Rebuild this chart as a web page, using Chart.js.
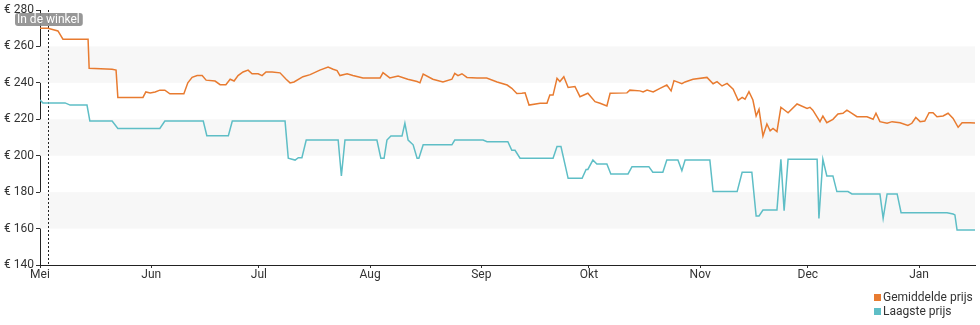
<!DOCTYPE html>
<html>
<head>
<meta charset="utf-8">
<script src="https://cdn.jsdelivr.net/npm/chart.js@4/dist/chart.umd.min.js"></script>
<style>
  html, body { margin: 0; padding: 0; background: #fff; }
  #wrap { position: relative; width: 980px; height: 325px; }
  #legend { position: absolute; left: 874px; top: 290px; font: 12px Roboto, sans-serif; color: #333; line-height: 14px; }
  #legend span.box { display: inline-block; width: 7px; height: 7px; margin-right: 2px; vertical-align: 0px; }
</style>
</head>
<body>
<div id="wrap">
  <canvas id="priceChart" width="980" height="325"></canvas>
  <div id="legend"></div>
</div>
<script>
// days since 1 May
const monthLabels = ["Mei", "Jun", "Jul", "Aug", "Sep", "Okt", "Nov", "Dec", "Jan"];
const monthDays = [0, 31, 61, 92, 123, 153, 184, 214, 245];
const yTicks = [140, 160, 180, 200, 220, 240, 260, 280];
const storeDay = 2.2;

const avgDays = [0, 2.2, 5.0, 6.4, 13.4, 13.7, 20.1, 21.2, 21.7, 28.7, 29.5, 30.7, 32.1, 33.4, 34.8, 36.2, 40.1,
  41.2, 42.4, 43.8, 45.2, 46.3, 48.8, 50.2, 51.8, 53.0, 54.1, 55.2, 56.6, 58.0, 59.1, 60.8, 61.9, 63.0, 64.7,
  66.9, 68.6, 69.7, 70.8, 73.3, 75.3, 78.0, 80.3, 81.7, 82.8, 83.6, 85.6, 87.2, 90.0, 92.5, 94.8, 95.6, 97.5,
  99.8, 102.5, 105.1, 105.9, 106.8, 109.5, 112.3, 114.8, 115.6, 116.5, 117.6, 119.0, 121.8, 124.5, 127.4,
  130.2, 131.5, 132.9, 134.3, 135.2, 136.3, 139.4, 141.3, 142.1, 143.0, 144.1, 144.9, 146.0, 147.2, 149.1,
  150.5, 152.7, 154.7, 156.1, 158.0, 158.9, 163.6, 164.4, 167.2, 168.1, 169.2, 170.9, 172.8, 174.7, 175.9,
  176.7, 178.9, 179.8, 182.0, 185.9, 187.6, 188.7, 190.1, 191.5, 193.2, 194.6, 195.7, 196.5, 197.6, 198.7,
  199.6, 200.4, 201.5, 202.6, 203.5, 204.3, 205.4, 206.5, 208.5, 211.0, 213.8, 214.6, 215.4, 217.4, 218.2,
  219.3, 221.0, 222.4, 223.8, 224.9, 226.3, 227.7, 230.5, 232.2, 233.0, 234.1, 236.1, 237.5, 239.7, 241.9,
  243.0, 244.1, 245.3, 246.6, 247.8, 248.9, 250.0, 251.7, 253.1, 254.5, 255.9, 257.0, 259.2, 260.6];
const avgPrices = [270, 270, 268.5, 264, 264, 248, 247.5, 247, 232, 232, 235, 234.5, 235, 236, 236, 234, 234,
  240, 243, 244, 244, 241.5, 241, 239, 239, 242, 241, 244, 246, 247, 245, 245, 244, 246, 246,
  245.5, 242, 240, 240.5, 243.4, 244.5, 247, 248.7, 247.5, 246.7, 244, 245, 244, 242.7, 242.7, 242.7, 245.6, 242.7,
  243.8, 242, 240.7, 240, 244.8, 242, 240.5, 242, 245.2, 244, 245, 243, 242.6, 242.6, 240.5,
  238.8, 237, 234.2, 234.3, 234.5, 227.8, 228.8, 228.8, 233.3, 233.3, 242.5, 240.7, 243.4, 237.5, 238,
  232.4, 234.3, 229.7, 228.8, 227.3, 234.3, 234.5, 236, 235.6, 235, 236, 235, 237, 238.8, 235.6,
  241.2, 239.5, 240.5, 242, 243, 239.5, 240.7, 238.3, 239.7, 236.5, 230.4, 232, 231, 235.2, 230.6,
  221.8, 225.5, 210.8, 217.4, 213.7, 215, 213.2, 226.6, 223.6, 228.4, 226, 226.6, 225, 218.7, 221.8,
  218.1, 220, 222.9, 223.3, 225, 223.3, 221.4, 221.4, 220, 223.3, 218.7, 217.8, 218.7, 218.1, 216.6,
  217.8, 221, 218.7, 219, 223.6, 223.6, 221.4, 221.8, 223.3, 220.5, 215.6, 218.1, 218.1, 218];

const lowDays = [0, 0.8, 7.0, 8.4, 13.1, 13.9, 20.1, 21.7, 33.4, 34.8, 45.5, 46.5, 52.5, 53.6, 68.3, 69.2, 71.1,
  72.0, 73.0, 74.2, 83.1, 84.0, 85.0, 93.9, 95.0, 95.9, 96.7, 97.8, 100.9, 101.7, 102.6, 104.0, 105.1, 105.6,
  106.8, 114.8, 115.6, 123.5, 124.6, 130.4, 131.5, 132.4, 133.8, 143.0, 144.1, 145.2, 147.2, 151.1, 152.2,
  152.7, 154.1, 155.2, 158.0, 159.1, 163.9, 165.0, 169.7, 170.8, 173.6, 174.7, 177.8, 178.9, 179.8, 186.7,
  187.6, 194.3, 195.7, 198.4, 199.6, 200.4, 201.5, 205.4, 206.5, 207.4, 208.5, 216.6, 217.1, 218.2, 219.3,
  221.0, 222.1, 225.2, 226.3, 234.1, 235.0, 236.1, 238.9, 240.0, 252.8, 254.5, 255.0, 255.6, 260.6];
const lowPrices = [230.6, 229, 229, 227.8, 227.8, 219, 219, 215, 215, 219, 219, 211, 211, 219, 219, 198.6, 197.6,
  198.9, 198.9, 208.6, 208.6, 188.9, 208.6, 208.6, 198.6, 198.6, 208.6, 210.8, 210.8, 217.8, 208.6, 206, 198.6, 198.6,
  206, 206, 208.6, 208.6, 207.7, 207.7, 203, 203, 198.6, 198.6, 205, 205, 187.6, 187.6, 192.5,
  192.5, 197.6, 195.4, 195.4, 190, 190, 194, 194, 190.9, 190.9, 197.6, 197.6, 191.8, 197.6, 197.6,
  180.3, 180.3, 190.9, 190.9, 166.9, 166.9, 170.2, 170.2, 198, 169.8, 198, 198, 165.6, 198, 188.9,
  188.9, 180.3, 180.3, 179, 179, 165.6, 179, 179, 168.7, 168.7, 168, 167.5, 159.2, 159.2];

const avgColor = "#e87b30";
const lowColor = "#5ebec6";

function toPoints(days, prices) {
  return days.map((d, i) => ({ x: d, y: prices[i] }));
}

// alternating grey bands behind the lines + store marker
const bandsPlugin = {
  id: "bands",
  beforeDatasetsDraw(chart) {
    const { ctx, chartArea, scales } = chart;
    ctx.save();
    ctx.fillStyle = "#f7f7f7";
    [[240, 260], [200, 220], [160, 180]].forEach(([lo, hi]) => {
      const y1 = scales.y.getPixelForValue(hi);
      const y2 = scales.y.getPixelForValue(lo);
      ctx.fillRect(chartArea.left, y1, chartArea.right - chartArea.left, y2 - y1);
    });
    const sx = Math.round(scales.x.getPixelForValue(storeDay)) + 0.5;
    ctx.strokeStyle = "#222";
    ctx.lineWidth = 1;
    ctx.setLineDash([2, 2]);
    ctx.beginPath();
    ctx.moveTo(sx, chartArea.top);
    ctx.lineTo(sx, chartArea.bottom);
    ctx.stroke();
    ctx.restore();
  },
  afterDatasetsDraw(chart) {
    const { ctx } = chart;
    ctx.save();
    ctx.font = "12px Roboto, sans-serif";
    const label = "In de winkel";
    const w = ctx.measureText(label).width + 5;
    ctx.fillStyle = "rgba(140,140,140,0.9)";
    ctx.beginPath();
    ctx.roundRect(15, 13, w, 13, 3);
    ctx.fill();
    ctx.fillStyle = "#fff";
    ctx.textBaseline = "middle";
    ctx.fillText(label, 17, 20);
    ctx.restore();
  }
};

const priceChart = new Chart(document.getElementById("priceChart"), {
  type: "line",
  data: {
    datasets: [
      {
        label: "Gemiddelde prijs",
        data: toPoints(avgDays, avgPrices),
        borderColor: avgColor,
        backgroundColor: avgColor,
        borderWidth: 1.5,
        pointRadius: 0,
        tension: 0
      },
      {
        label: "Laagste prijs",
        data: toPoints(lowDays, lowPrices),
        borderColor: lowColor,
        backgroundColor: lowColor,
        borderWidth: 1.5,
        pointRadius: 0,
        tension: 0
      }
    ]
  },
  options: {
    responsive: false,
    animation: false,
    layout: { padding: { top: 10, right: 5, left: 0, bottom: 0 } },
    plugins: {
      legend: { display: false },
      tooltip: { enabled: false }
    },
    scales: {
      x: {
        type: "linear",
        min: 0,
        max: 260.6,
        afterBuildTicks: (scale) => {
          scale.ticks = monthDays.map((d) => ({ value: d }));
        },
        afterFit: (scale) => { scale.height = 60; },
        ticks: {
          autoSkip: false,
          maxRotation: 0,
          padding: 0,
          color: "#333",
          font: { family: "Roboto", size: 12 },
          callback: (value) => monthLabels[monthDays.indexOf(value)]
        },
        grid: { drawOnChartArea: false, tickLength: 3, color: "#333" },
        border: { color: "#222", width: 1 }
      },
      y: {
        min: 140,
        max: 280,
        afterBuildTicks: (scale) => {
          scale.ticks = yTicks.map((v) => ({ value: v }));
        },
        afterFit: (scale) => { scale.width = 40; },
        ticks: {
          padding: 2,
          color: "#333",
          font: { family: "Roboto", size: 12 },
          callback: (value) => "€ " + value
        },
        grid: { drawOnChartArea: false, tickLength: 4, color: "#333" },
        border: { color: "#222", width: 1 }
      }
    }
  },
  plugins: [bandsPlugin]
});

// legend below the chart, stacked on the right
const legendEl = document.getElementById("legend");
priceChart.data.datasets.forEach((ds) => {
  const row = document.createElement("div");
  row.innerHTML = '<span class="box" style="background:' + ds.borderColor + '"></span>' + ds.label;
  legendEl.appendChild(row);
});
</script>
</body>
</html>
